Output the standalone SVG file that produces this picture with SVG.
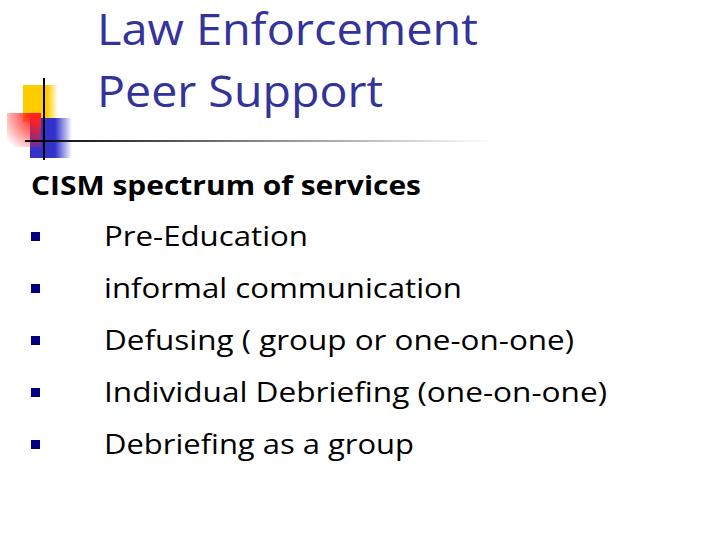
<svg xmlns="http://www.w3.org/2000/svg" width="720" height="540" viewBox="0 0 720 540">
<defs>
<linearGradient id="hl" x1="0" x2="1"><stop offset="0" stop-color="#000"/><stop offset="0.5" stop-color="#888"/><stop offset="1" stop-color="#fff"/></linearGradient>
<linearGradient id="yl" x1="0" x2="1"><stop offset="0.7" stop-color="#ffcc00"/><stop offset="1" stop-color="#ffcc00" stop-opacity="0"/></linearGradient>
<linearGradient id="bl" x1="0" x2="1"><stop offset="0.6" stop-color="#3333cc"/><stop offset="1" stop-color="#3333cc" stop-opacity="0"/></linearGradient>
<radialGradient id="rd" cx="1" cy="0" r="1.3"><stop offset="0.2" stop-color="#ff2020"/><stop offset="1" stop-color="#ff2020" stop-opacity="0"/></radialGradient>
<style>
.t{font-family:"Open Sans",Lato,sans-serif;font-size:43px;fill:#333399;font-variant-ligatures:none}
.b{font-family:"Open Sans",Lato,sans-serif;font-size:27px;fill:#000;font-variant-ligatures:none}
.bu{fill:#000080}
</style>
</defs>
<rect width="720" height="540" fill="#fff"/>
<g id="logo">
<rect x="23" y="85" width="35" height="37" fill="url(#yl)"/>
<rect x="30" y="118" width="42" height="40" fill="url(#bl)"/>
<rect x="7" y="113" width="34" height="34" fill="url(#rd)"/>
<rect x="25" y="140" width="470" height="2" fill="url(#hl)"/>
<rect x="43" y="78" width="2" height="82" fill="#000"/>
</g>
<g id="title">
<text class="t" x="97" y="45" textLength="381" lengthAdjust="spacingAndGlyphs">Law Enforcement</text>
<text class="t" x="97" y="107" textLength="286" lengthAdjust="spacingAndGlyphs">Peer Support</text>
</g>
<g id="body">
<text class="b" x="31" y="195" font-weight="bold" textLength="390" lengthAdjust="spacingAndGlyphs">CISM spectrum of services</text>
<rect class="bu" x="31" y="232" width="9" height="9"/>
<text class="b" x="104" y="246" textLength="204" lengthAdjust="spacingAndGlyphs">Pre-Education</text>
<rect class="bu" x="31" y="284" width="9" height="9"/>
<text class="b" x="104" y="298" textLength="358" lengthAdjust="spacingAndGlyphs">informal communication</text>
<rect class="bu" x="31" y="336" width="9" height="9"/>
<text class="b" x="104" y="350" textLength="470" lengthAdjust="spacingAndGlyphs">Defusing ( group or one-on-one)</text>
<rect class="bu" x="31" y="388" width="9" height="9"/>
<text class="b" x="104" y="402" textLength="503" lengthAdjust="spacingAndGlyphs">Individual Debriefing (one-on-one)</text>
<rect class="bu" x="31" y="440" width="9" height="9"/>
<text class="b" x="104" y="454" textLength="310" lengthAdjust="spacingAndGlyphs">Debriefing as a group</text>
</g>
</svg>
